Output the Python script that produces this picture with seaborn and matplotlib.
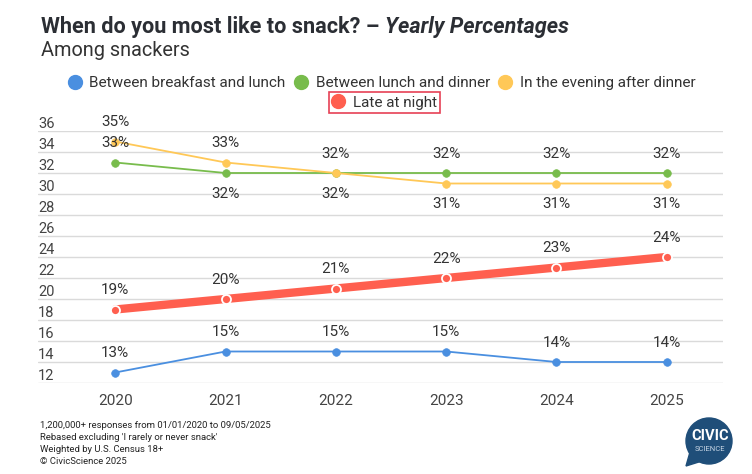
import matplotlib
matplotlib.use("Agg")
import matplotlib.pyplot as plt
from matplotlib.lines import Line2D
from matplotlib.patches import Circle, Polygon
import seaborn as sns
import pandas as pd

# chart data
years = [2020, 2021, 2022, 2023, 2024, 2025]
breakfast_lunch = [13, 15, 15, 15, 14, 14]
lunch_dinner = [33, 32, 32, 32, 32, 32]
after_dinner = [35, 33, 32, 31, 31, 31]
late_night = [19, 20, 21, 22, 23, 24]
series_names = ["Between breakfast and lunch", "Between lunch and dinner",
                "In the evening after dinner", "Late at night"]
y_ticks = list(range(12, 37, 2))
footnotes = ["1,200,000+ responses from 01/01/2020 to 09/05/2025",
             "Rebased excluding 'I rarely or never snack'",
             "Weighted by U.S. Census 18+",
             "\u00a9 CivicScience 2025"]

sns.set_theme(style="white")
plt.rcParams['font.family'] = ['Roboto', 'DejaVu Sans']

df = pd.DataFrame({
    "year": years * 4,
    "pct": breakfast_lunch + lunch_dinner + after_dinner + late_night,
    "when": [n for n in series_names for _ in years],
})

colors = {series_names[0]: "#4a8fe0", series_names[1]: "#78bc4c",
          series_names[2]: "#ffc857", series_names[3]: "#ff5f4f"}
# label placement: above (+1) or below (-1) the point
label_side = {series_names[0]: [1, 1, 1, 1, 1, 1],
              series_names[1]: [1, -1, 1, 1, 1, 1],
              series_names[2]: [1, 1, -1, -1, -1, -1],
              series_names[3]: [1, 1, 1, 1, 1, 1]}

W, H = 752, 474
fig = plt.figure(figsize=(W / 100, H / 100), dpi=100)
fig.patch.set_facecolor("white")
ax = fig.add_axes([38 / W, 1 - 383 / H, (723 - 38) / W, (383 - 131) / H])

for name in series_names:
    sub = df[df["when"] == name]
    if name == "Late at night":
        sns.lineplot(data=sub, x="year", y="pct", ax=ax, color=colors[name], lw=6,
                     marker="o", markersize=6.5, markerfacecolor=colors[name],
                     markeredgecolor="white", markeredgewidth=1.3, zorder=4)
    else:
        sns.lineplot(data=sub, x="year", y="pct", ax=ax, color=colors[name], lw=1.3,
                     marker="o", markersize=5.5, markeredgecolor=colors[name],
                     markeredgewidth=0.5, zorder=3)
    for x, v, side in zip(sub["year"], sub["pct"], label_side[name]):
        ax.annotate(f"{v}%", (x, v), xytext=(0, 14 if side > 0 else -15),
                    textcoords="offset points", ha="center", va="center",
                    fontsize=11, color="#333333", zorder=5)

ax.set_xlim(2019.30, 2025.51)
ax.set_ylim(12, 36)
ax.set_xticks(years)
ax.set_xticklabels([str(y) for y in years])
ax.set_yticks(y_ticks)
ax.set_yticklabels([str(t) for t in y_ticks])
ax.set_xlabel("")
ax.set_ylabel("")
ax.grid(axis="y", color="#dadada", lw=1)
ax.set_axisbelow(True)
for s in ax.spines.values():
    s.set_visible(False)
ax.tick_params(axis="x", length=0, pad=8, labelsize=11, labelcolor="#444444")
ax.tick_params(axis="y", length=0, pad=0, labelsize=10.5, labelcolor="#444444")
for lbl in ax.get_yticklabels():
    lbl.set_horizontalalignment("left")
    lbl.set_verticalalignment("bottom")
if ax.get_legend() is not None:
    ax.get_legend().remove()

# legend
handles = [Line2D([], [], ls="", marker="o", ms=10, color=colors[n]) for n in series_names]
leg1 = fig.legend(handles[:3], series_names[:3], loc="center",
                  bbox_to_anchor=(382 / W, 1 - 83 / H), ncol=3, frameon=False,
                  handlelength=0.75, handletextpad=0.6, columnspacing=0.6,
                  fontsize=11, borderpad=0, labelcolor="#333333")
leg2 = fig.legend(handles[3:], series_names[3:], loc="center",
                  bbox_to_anchor=(384.5 / W, 1 - 102.5 / H), frameon=True,
                  fancybox=False, edgecolor="#e0102a", handlelength=0.75,
                  handletextpad=0.6, borderpad=0.2, fontsize=11,
                  labelcolor="#333333")
leg2.get_frame().set_linewidth(1.2)

# title
t1 = fig.text(41 / W, 1 - 33 / H, "When do you most like to snack? \u2013 ",
              fontsize=15.6, weight="bold", color="#2b2e34", va="baseline")
fig.canvas.draw()
bb = t1.get_window_extent()
fig.text(bb.x1 / W, 1 - 33 / H, "Yearly Percentages", fontsize=15.6,
         weight="bold", style="italic", color="#2b2e34", va="baseline")
fig.text(41 / W, 1 - 56 / H, "Among snackers", fontsize=14.3, color="#333333",
         va="baseline")

# footnotes
for i, line in enumerate(footnotes):
    fig.text(40 / W, 1 - (426 + 11.7 * i) / H, line, fontsize=6.8,
             color="#222222", va="center")

# logo
lax = fig.add_axes([682 / W, 1 - 470 / H, 54 / W, 56 / H])
lax.set_xlim(682, 736)
lax.set_ylim(470, 414)
lax.set_aspect("equal")
lax.axis("off")
lax.add_patch(Circle((709, 441), 23, color="#1f4e79"))
lax.add_patch(Polygon([(690, 452), (686, 466), (702, 461)], color="#1f4e79"))
lax.text(710, 436, "CIVIC", color="white", fontsize=10.5, weight="bold",
         ha="center", va="center")
lax.text(710, 449, "SCIENCE", color="#c9d7e6", fontsize=5.5,
         ha="center", va="center")

fig.savefig("out.png", dpi=100)
